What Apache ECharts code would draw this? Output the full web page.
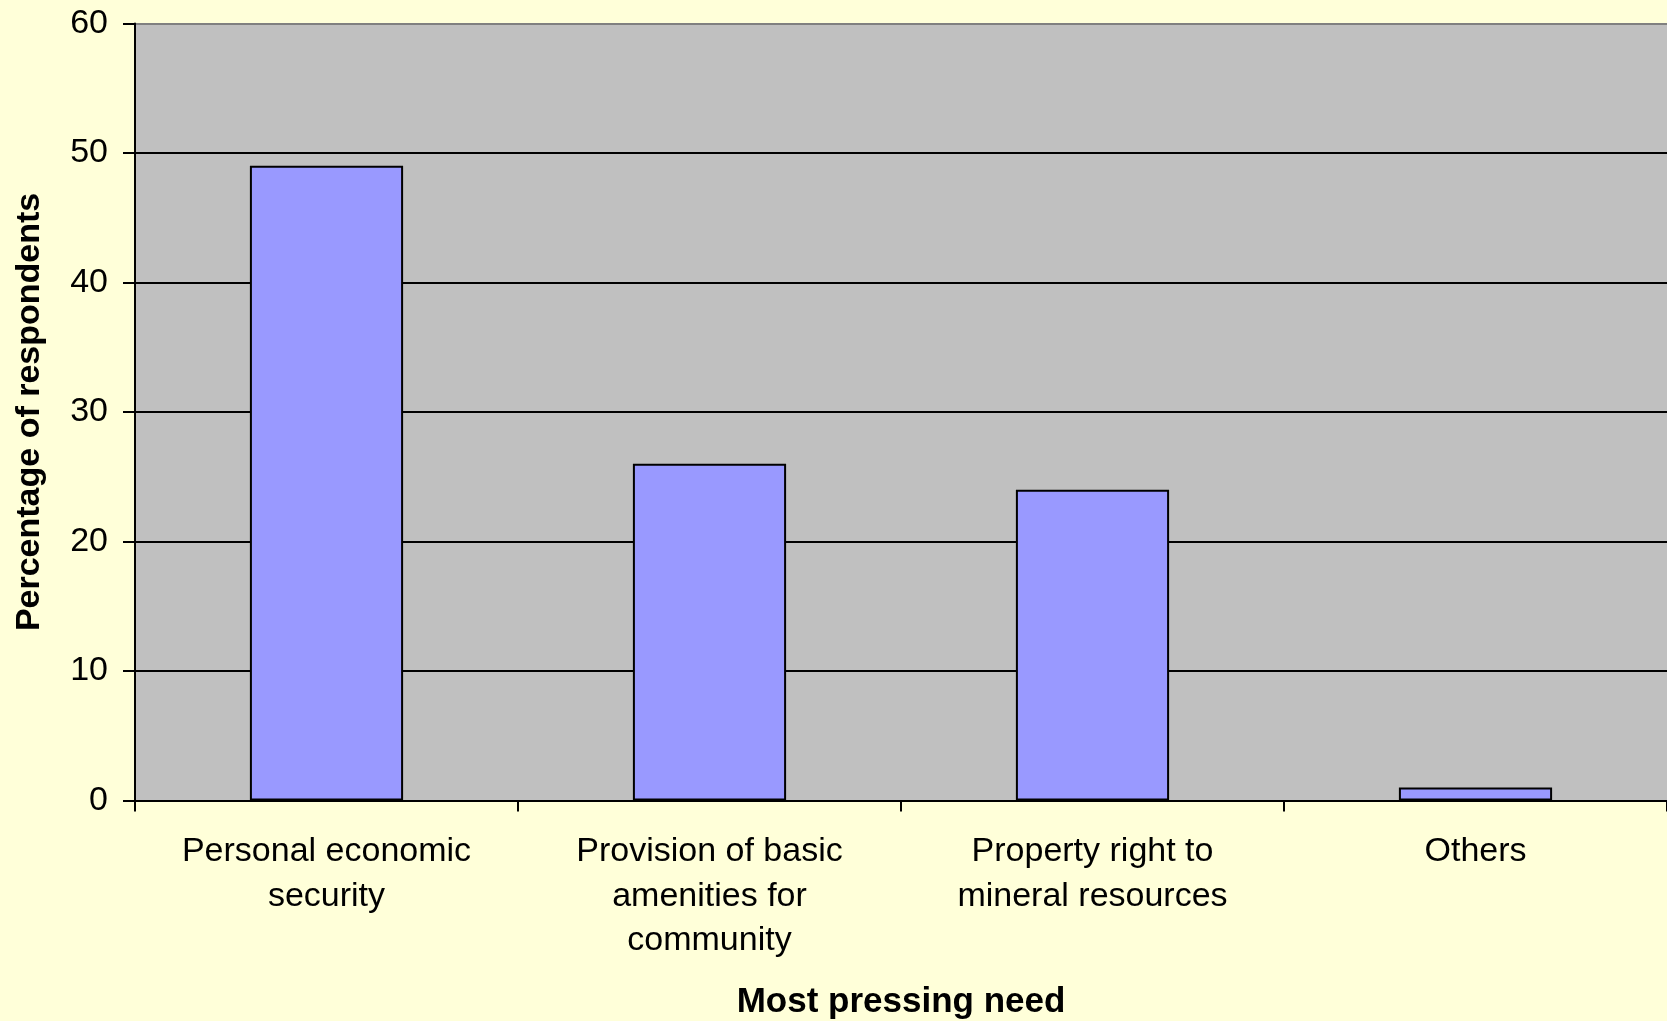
<!DOCTYPE html>
<html>
<head>
<meta charset="utf-8">
<script src="https://cdn.jsdelivr.net/npm/echarts@6/dist/echarts.min.js"></script>
<style>
html,body{margin:0;padding:0;background:#FFFFD9;}
#chart{width:1667px;height:1021px;}
</style>
</head>
<body>
<div id="chart"></div>
<script>
var categories = ["Personal economic\nsecurity", "Provision of basic\namenities for\ncommunity", "Property right to\nmineral resources", "Others"];
var values = [49, 26, 24, 1];
var yTicks = { min: 0, max: 60, interval: 10 };
var xTitle = "Most pressing need";
var yTitle = "Percentage of respondents";

var FONT = "'Liberation Sans', Arial, sans-serif";
var chart = echarts.init(document.getElementById('chart'));
chart.setOption({
  backgroundColor: '#FFFFD9',
  animation: false,
  grid: {
    left: 135, right: 0, top: 23.4, bottom: 220.5,
    outerBoundsMode: 'none',
    containLabel: false,
    show: true, backgroundColor: '#C0C0C0', borderWidth: 0
  },
  xAxis: {
    type: 'category',
    data: categories,
    name: xTitle,
    nameLocation: 'middle',
    nameGap: 184,
    nameTextStyle: { fontFamily: FONT, fontSize: 35, fontWeight: 'bold', color: '#000' },
    axisLine: { show: true, lineStyle: { color: '#000', width: 2 } },
    axisTick: { show: true, length: 11, lineStyle: { color: '#000', width: 2 } },
    axisLabel: { fontFamily: FONT, fontSize: 34, color: '#000', margin: 29, lineHeight: 44.6, interval: 0 },
    splitLine: { show: false }
  },
  yAxis: {
    type: 'value',
    min: yTicks.min, max: yTicks.max, interval: yTicks.interval,
    name: yTitle,
    nameLocation: 'middle',
    nameRotate: 90,
    nameGap: 88,
    nameTextStyle: { fontFamily: FONT, fontSize: 34, fontWeight: 'bold', color: '#000' },
    axisLine: { show: true, lineStyle: { color: '#000', width: 2 } },
    axisTick: { show: true, length: 12, lineStyle: { color: '#000', width: 2 } },
    axisLabel: { fontFamily: FONT, fontSize: 34, color: '#000', margin: 27 },
    splitLine: { show: true, lineStyle: { color: ['#000', '#000', '#000', '#000', '#000', '#000', '#808080'], width: 2 } }
  },
  series: [{
    type: 'bar',
    data: values,
    barWidth: '40%',
    itemStyle: { color: '#9999FF', borderColor: '#000', borderWidth: 2 }
  }]
});
</script>
</body>
</html>
